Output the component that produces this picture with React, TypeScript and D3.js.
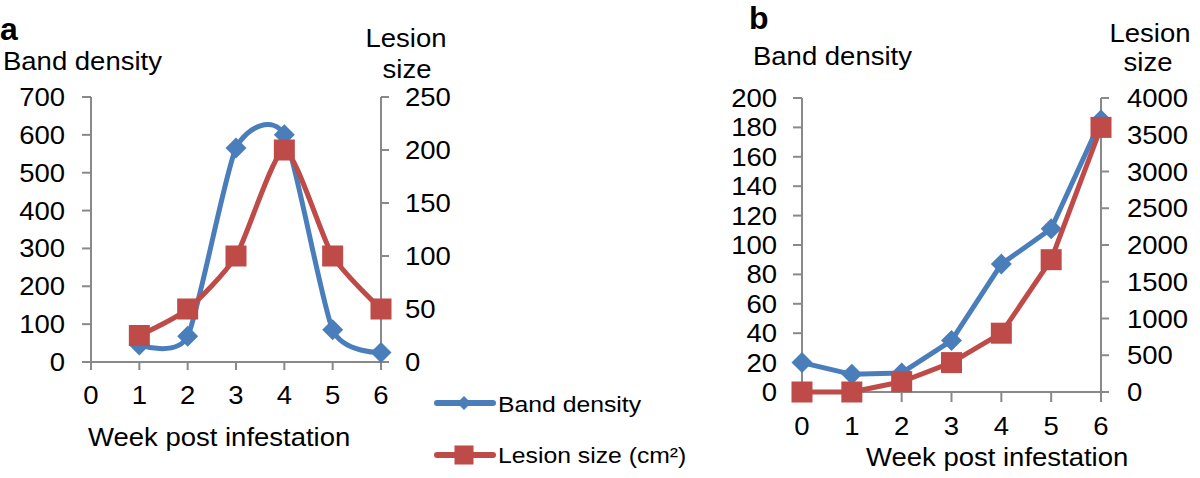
import React from "react";
import * as d3 from "d3";

const weeksA = [1, 2, 3, 4, 5, 6];
const bandA = [45, 68, 565, 600, 85, 25];
const lesionA = [25, 50, 100, 200, 100, 50];

const weeksB = [0, 1, 2, 3, 4, 5, 6];
const bandB = [20, 12, 13, 35, 87, 111, 185];
const lesionB = [0, 0, 140, 400, 800, 1800, 3600];

const xTicks = [0, 1, 2, 3, 4, 5, 6];
const leftTicksA = [0, 100, 200, 300, 400, 500, 600, 700];
const rightTicksA = [0, 50, 100, 150, 200, 250];
const leftTicksB = [0, 20, 40, 60, 80, 100, 120, 140, 160, 180, 200];
const rightTicksB = [0, 500, 1000, 1500, 2000, 2500, 3000, 3500, 4000];

const BLUE = "#4A7EBB";
const RED = "#BE4B48";
const AXIS = "#898989";
const FONT = "'Liberation Sans', Arial, Helvetica, sans-serif";
const SX = 1.1;

function T({ x, y, anchor = "start", size = 25, weight = "normal", children }: any) {
  return (
    <text
      transform={`translate(${x},${y}) scale(${SX},1)`}
      textAnchor={anchor}
      fontSize={size}
      fontWeight={weight}
      fontFamily={FONT}
      fill="#000"
    >
      {children}
    </text>
  );
}

function Diamond({ x, y, r = 10.5 }: any) {
  return <path d={`M${x},${y - r}L${x + r},${y}L${x},${y + r}L${x - r},${y}Z`} fill={BLUE} />;
}
function Square({ x, y, s = 21 }: any) {
  return <rect x={x - s / 2} y={y - s / 2} width={s} height={s} fill={RED} />;
}

function Panel({ cfg }: any) {
  const { x0, x1, y0, y1, lMax, rMax, lTicks, rTicks, weeks, band, lesion, smooth,
    lLabelX, rLabelX, xLabelY, tickLen } = cfg;
  const x = d3.scaleLinear().domain([0, 6]).range([x0, x1]);
  const yL = d3.scaleLinear().domain([0, lMax]).range([y0, y1]);
  const yR = d3.scaleLinear().domain([0, rMax]).range([y0, y1]);
  const curve = smooth ? d3.curveCardinal.tension(0.35) : d3.curveLinear;
  const bandPts: [number, number][] = weeks.map((w: number, i: number) => [x(w), yL(band[i])]);
  const lesPts: [number, number][] = weeks.map((w: number, i: number) => [x(w), yR(lesion[i])]);
  const line = d3.line().curve(curve);
  return (
    <g>
      <line x1={x0} x2={x0} y1={y1} y2={y0} stroke={AXIS} strokeWidth={2} />
      <line x1={x1} x2={x1} y1={y1} y2={y0} stroke={AXIS} strokeWidth={2} />
      <line x1={x0} x2={x1} y1={y0} y2={y0} stroke={AXIS} strokeWidth={2} />
      {lTicks.map((t: number) => (
        <g key={"l" + t}>
          <line x1={x0 - 9} x2={x0} y1={yL(t)} y2={yL(t)} stroke={AXIS} strokeWidth={2} />
          <T x={lLabelX} y={yL(t) + 9} anchor="end">{t}</T>
        </g>
      ))}
      {rTicks.map((t: number) => (
        <g key={"r" + t}>
          <line x1={x1} x2={x1 + 8} y1={yR(t)} y2={yR(t)} stroke={AXIS} strokeWidth={2} />
          <T x={rLabelX} y={yR(t) + 9} anchor="start">{t}</T>
        </g>
      ))}
      {xTicks.map((t: number) => (
        <g key={"x" + t}>
          <line x1={x(t)} x2={x(t)} y1={y0} y2={y0 + tickLen} stroke={AXIS} strokeWidth={2} />
          <T x={x(t)} y={xLabelY} anchor="middle">{t}</T>
        </g>
      ))}
      <path d={line(bandPts) || ""} fill="none" stroke={BLUE} strokeWidth={5} strokeLinejoin="round" />
      {bandPts.map((p, i) => <Diamond key={"d" + i} x={p[0]} y={p[1]} />)}
      <path d={line(lesPts) || ""} fill="none" stroke={RED} strokeWidth={5} strokeLinejoin="round" />
      {lesPts.map((p, i) => <Square key={"s" + i} x={p[0]} y={p[1]} />)}
    </g>
  );
}

const cfgA = {
  x0: 91, x1: 381, y0: 362, y1: 97, lMax: 700, rMax: 250,
  lTicks: leftTicksA, rTicks: rightTicksA, weeks: weeksA, band: bandA, lesion: lesionA,
  smooth: true, lLabelX: 65, rLabelX: 405, xLabelY: 404, tickLen: 8,
};
const cfgB = {
  x0: 802, x1: 1101, y0: 392, y1: 98, lMax: 200, rMax: 4000,
  lTicks: leftTicksB, rTicks: rightTicksB, weeks: weeksB, band: bandB, lesion: lesionB,
  smooth: false, lLabelX: 777, rLabelX: 1127, xLabelY: 435, tickLen: 10,
};

export default function App() {
  return (
    <svg
      width={1200}
      height={478}
      style={{ position: "absolute", left: 0, top: 0, background: "#fff" }}
    >
      <rect width={1200} height={478} fill="#fff" />
      <text x={0} y={40} fontSize={32} fontWeight="bold" fontFamily={FONT}>a</text>
      <T x={3} y={70}>Band density</T>
      <T x={406} y={47} anchor="middle">Lesion</T>
      <T x={407} y={78} anchor="middle">size</T>
      <Panel cfg={cfgA} />
      <T x={88} y={446}>Week post infestation</T>

      <line x1={437} x2={493} y1={403} y2={403} stroke={BLUE} strokeWidth={6} strokeLinecap="round" />
      <Diamond x={464} y={403} r={7} />
      <T x={498} y={412} size={22.5}>Band density</T>
      <line x1={437} x2={493} y1={455} y2={455} stroke={RED} strokeWidth={6} strokeLinecap="round" />
      <Square x={464} y={455} s={19} />
      <T x={498} y={463} size={22.5}>Lesion size (cm²)</T>

      <text x={749} y={29} fontSize={32} fontWeight="bold" fontFamily={FONT}>b</text>
      <T x={753} y={65}>Band density</T>
      <T x={1150} y={42} anchor="middle">Lesion</T>
      <T x={1148} y={71} anchor="middle">size</T>
      <Panel cfg={cfgB} />
      <T x={866} y={466}>Week post infestation</T>
    </svg>
  );
}
